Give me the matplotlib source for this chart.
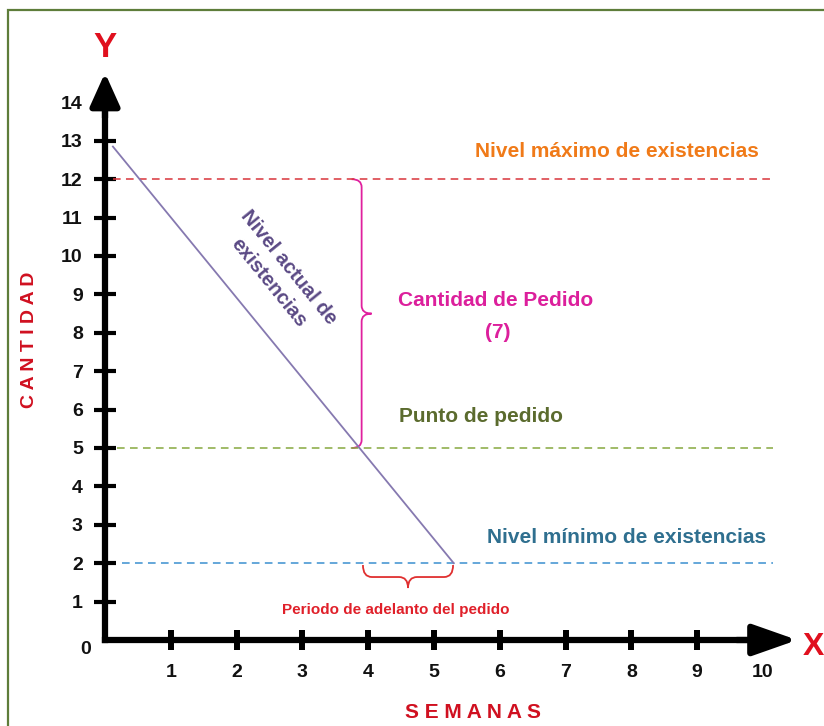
import matplotlib
matplotlib.use("Agg")
import matplotlib.pyplot as plt
import numpy as np
from matplotlib.path import Path
from matplotlib.patches import PathPatch, Rectangle

plt.rcParams['font.family'] = ['Liberation Sans', 'DejaVu Sans']
plt.rcParams['font.weight'] = 'bold'

# ---- data ----
x_ticks = list(range(1, 11))
y_ticks = list(range(1, 15))
stock_x = [0.12, 5.30]          # semanas
stock_y = [12.85, 2.0]          # nivel actual de existencias
nivel_maximo = 12
punto_pedido = 5
nivel_minimo = 2
cantidad_pedido = 7
lead_start, lead_end = 3.92, 5.29
line_start = {'max': 0.12, 'punto': 0.18, 'min': 0.26}
line_end = 10.15

# ---- figure / axes (pixel mapping: x0=105px, 65.8px/unit; y0=640px, 38.4px/unit) ----
W, H = 824, 726
fig = plt.figure(figsize=(W / 100, H / 100), dpi=100)
ax = fig.add_axes([0, 0, 1, 1])
ax.set_xlim(-105 / 65.8, (W - 105) / 65.8)
ax.set_ylim(-(H - 640) / 38.4, 640 / 38.4)
ax.patch.set_alpha(0)

# border
fig.patches.append(Rectangle((8 / W, -0.1), 1.2, 1 - 10 / H + 0.1, transform=fig.transFigure,
                             fill=False, edgecolor='#5e7d3a', linewidth=1.6))

# axes spines
for s in ['top', 'right']:
    ax.spines[s].set_visible(False)
ax.spines['left'].set_position(('data', 0))
ax.spines['bottom'].set_position(('data', 0))
ax.spines['left'].set_bounds(0, 14.0)
ax.spines['bottom'].set_bounds(0, 9.95)
for s in ['left', 'bottom']:
    ax.spines[s].set_linewidth(4.5)
    ax.spines[s].set_capstyle('projecting')
    ax.spines[s].set_color('black')

ax.set_xticks(x_ticks)
ax.set_yticks(y_ticks)
ax.set_xticklabels([str(v) for v in x_ticks])
ax.set_yticklabels([str(v) for v in y_ticks])
ax.tick_params(axis='x', direction='inout', length=14.5, width=4.3, pad=10, labelsize=14, colors='black')
ax.tick_params(axis='y', direction='inout', length=16, width=3, pad=8, labelsize=14, colors='black')
for lab in ax.get_xticklabels() + ax.get_yticklabels():
    lab.set_fontweight('bold')
    lab.set_color('#111111')

# arrowheads
ax.annotate('', xy=(0, 14.77), xytext=(0, 13.6),
            arrowprops=dict(arrowstyle='-|>,head_length=2.0,head_width=0.9', mutation_scale=10,
                            lw=4.5, color='black', shrinkA=0, shrinkB=0))
ax.annotate('', xy=(10.52, 0), xytext=(9.6, 0),
            arrowprops=dict(arrowstyle='-|>,head_length=2.7,head_width=0.95', mutation_scale=10,
                            lw=4.5, color='black', shrinkA=0, shrinkB=0))

# dashed reference lines
dash = (0, (5, 3.5))
ax.plot([line_start['max'], line_end], [nivel_maximo] * 2, ls=dash, lw=1.1, color='#d9343a')
ax.plot([line_start['punto'], line_end], [punto_pedido] * 2, ls=dash, lw=1.1, color='#86a83e')
ax.plot([line_start['min'], line_end], [nivel_minimo] * 2, ls=dash, lw=1.1, color='#3a8fd0')

# stock level line
ax.plot(stock_x, stock_y, color='#8679b0', lw=1.3)


def brace(p0, p1, h, t, q, color, lw):
    d0 = ax.transData.transform(p0)
    d1 = ax.transData.transform(p1)
    vec = d1 - d0
    L = np.hypot(*vec)
    u = vec / L
    n = np.array([-u[1], u[0]])
    local = [(0, -h), (0, 0), (q, 0), (L / 2 - q, 0), (L / 2, 0), (L / 2, t),
             (L / 2, 0), (L / 2 + q, 0), (L - q, 0), (L, 0), (L, -h)]
    codes = [Path.MOVETO, Path.CURVE3, Path.CURVE3, Path.LINETO, Path.CURVE3, Path.CURVE3,
             Path.CURVE3, Path.CURVE3, Path.LINETO, Path.CURVE3, Path.CURVE3]
    pts = np.array([d0 + s * u + v * n for s, v in local])
    pts = ax.transData.inverted().transform(pts)
    ax.add_patch(PathPatch(Path(pts, codes), fill=False, edgecolor=color, lw=lw))


brace((3.9, nivel_maximo), (3.9, nivel_maximo - cantidad_pedido), 10, 10, 8, '#e0209e', 1.3)
brace((lead_end, nivel_minimo - 0.36), (lead_start, nivel_minimo - 0.36), 12, 11, 9, '#e03030', 1.3)

# annotations
ax.text(7.78, 12.71, 'Nivel máximo de existencias', color='#f07a18', fontsize=15,
        ha='center', va='center', fontweight='bold')
ax.text(5.94, 8.85, 'Cantidad de Pedido', color='#dc1f9c', fontsize=15,
        ha='center', va='center', fontweight='bold')
ax.text(5.97, 8.02, '(%d)' % cantidad_pedido, color='#dc1f9c', fontsize=15,
        ha='center', va='center', fontweight='bold')
ax.text(4.47, 5.81, 'Punto de pedido', color='#5b6b2e', fontsize=15,
        ha='left', va='center', fontweight='bold')
ax.text(5.81, 2.66, 'Nivel mínimo de existencias', color='#2f6f8f', fontsize=15,
        ha='left', va='center', fontweight='bold')
ax.text(4.42, 0.78, 'Periodo de adelanto del pedido', color='#e0202a', fontsize=11,
        ha='center', va='center', fontweight='bold')
ax.text(2.64, 9.5, 'Nivel actual de\nexistencias', color='#5b4a85', fontsize=14.5,
        ha='center', va='center', rotation=-51, rotation_mode='anchor',
        fontweight='bold', linespacing=1.4)

ax.text(-0.30, -0.26, '0', color='#111111', fontsize=14, ha='center', va='center', fontweight='bold')
ax.text(0.0, 15.44, 'Y', color='#e0101e', fontsize=25, ha='center', va='center', fontweight='bold')
ax.text(10.6, -0.18, 'X', color='#e0101e', fontsize=23, ha='left', va='center', fontweight='bold')
ax.text(-1.155, 7.81, 'C A N T I D A D', color='#d01020', fontsize=14, rotation=90,
        ha='center', va='center', fontweight='bold')
ax.text(5.59, -1.875, 'S E M A N A S', color='#d01020', fontsize=15,
        ha='center', va='center', fontweight='bold')

fig.savefig('out.png', dpi=100)
